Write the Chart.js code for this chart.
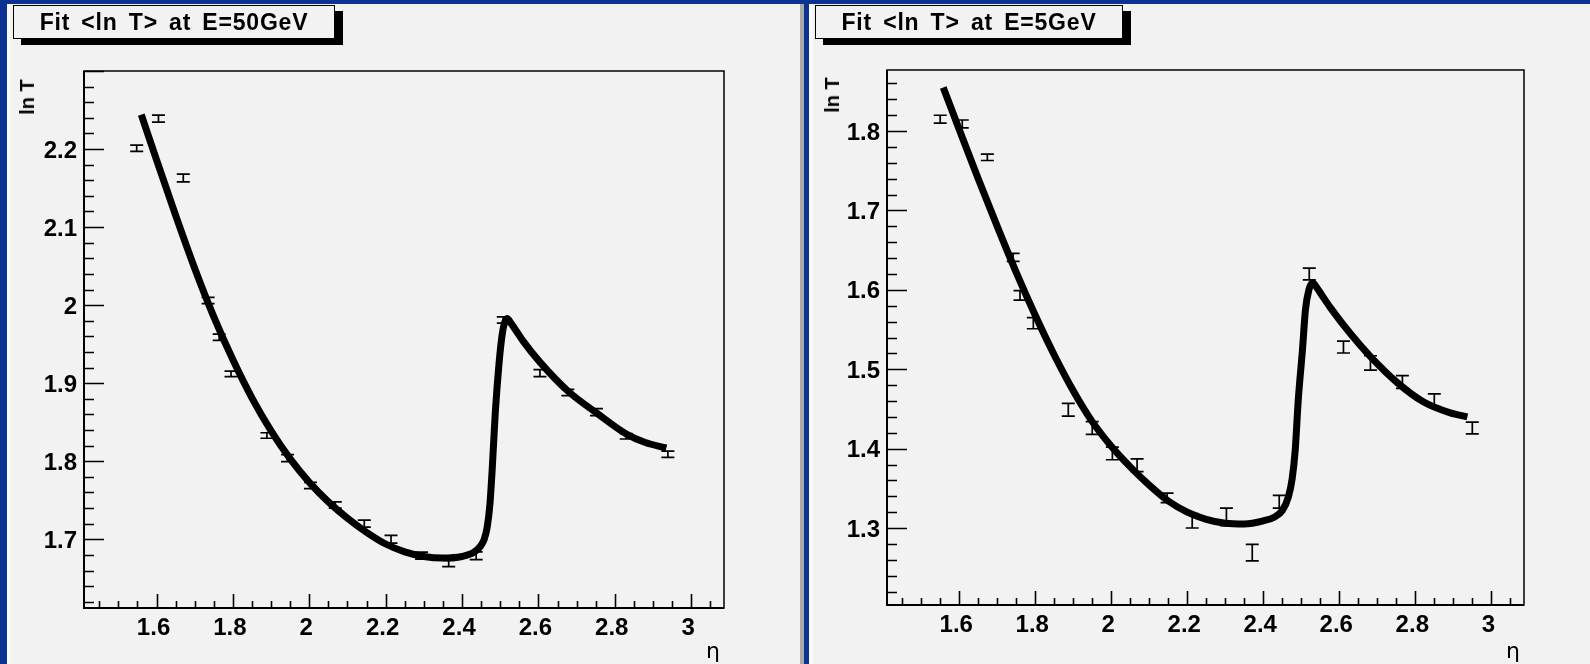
<!DOCTYPE html>
<html>
<head>
<meta charset="utf-8">
<script src="https://cdn.jsdelivr.net/npm/chart.js@4.4.1/dist/chart.umd.min.js"></script>
<style>
  body { margin: 0; width: 1590px; height: 664px; overflow: hidden; background: #0b3191; position: relative; font-family: "Liberation Sans", Arial, sans-serif; }
  .pad { position: absolute; top: 4px; height: 660px; background: #f2f2f2; box-sizing: border-box; }
  #pad1 { left: 7px; width: 797px; border-left: 3px solid #fafafa; border-right: 4px solid #a9a9a9; }
  #pad2 { left: 809px; width: 781px; border-left: 4px solid #fafafa; }
  .pad canvas { position: absolute; left: 0; top: 0; }
  .title { position: absolute; top: 5px; height: 34px; box-sizing: border-box; border: 1px solid #000; background: #f2f2f2; box-shadow: 8px 6px 0 #000; font-weight: bold; font-size: 23px; line-height: 32px; text-align: center; letter-spacing: 0.8px; word-spacing: 4px; white-space: nowrap; }
  .ytitle { position: absolute; font-weight: bold; font-size: 20px; line-height: 1; white-space: nowrap; transform: translate(-50%, -50%) rotate(-90deg); }
  .xtitle { position: absolute; font-family: "DejaVu Sans", sans-serif; font-size: 22px; line-height: 1; transform: translate(-50%, -50%); }
</style>
</head>
<body>
<div class="pad" id="pad1"><canvas id="fit50" width="790" height="660" style="width:790px;height:660px"></canvas></div>
<div class="pad" id="pad2"><canvas id="fit5" width="777" height="660" style="width:777px;height:660px"></canvas></div>

<div class="title" style="left:13px;width:322px">Fit &lt;ln T&gt; at E=50GeV</div>
<div class="title" style="left:815px;width:308px">Fit &lt;ln T&gt; at E=5GeV</div>
<div class="ytitle" style="left:27px;top:97px">ln T</div>
<div class="ytitle" style="left:832px;top:95px">ln T</div>
<div class="xtitle" style="left:713px;top:651px">η</div>
<div class="xtitle" style="left:1513px;top:651px">η</div>

<script>
// E = 50 GeV : measured points
const eta50 = [1.548, 1.605, 1.670, 1.735, 1.764, 1.795, 1.889, 1.943, 2.003, 2.068, 2.144, 2.214, 2.294, 2.365, 2.437, 2.508, 2.604, 2.677, 2.752, 2.830, 2.939];
const lnT50 = [2.201, 2.239, 2.163, 2.006, 1.959, 1.912, 1.833, 1.804, 1.769, 1.744, 1.720, 1.700, 1.679, 1.669, 1.679, 1.981, 1.913, 1.888, 1.863, 1.832, 1.809];
const err50 = [0.004, 0.0045, 0.005, 0.004, 0.004, 0.0035, 0.0035, 0.0045, 0.004, 0.004, 0.0045, 0.005, 0.0045, 0.004, 0.005, 0.004, 0.0045, 0.004, 0.0045, 0.0035, 0.004];
// E = 50 GeV : fit curve
const fitEta50 = [1.560, 1.600, 1.650, 1.700, 1.750, 1.800, 1.850, 1.900, 1.950, 2.000, 2.050, 2.100, 2.150, 2.200, 2.250, 2.300, 2.350, 2.400, 2.430, 2.448, 2.458, 2.466, 2.473, 2.479, 2.487, 2.497, 2.505, 2.511, 2.518, 2.528, 2.542, 2.560, 2.604, 2.677, 2.752, 2.830, 2.880, 2.935];
const fitLnT50 = [2.244, 2.186, 2.115, 2.047, 1.985, 1.930, 1.881, 1.839, 1.803, 1.773, 1.748, 1.727, 1.709, 1.694, 1.684, 1.678, 1.676, 1.678, 1.683, 1.691, 1.700, 1.716, 1.745, 1.790, 1.862, 1.926, 1.962, 1.977, 1.983, 1.977, 1.967, 1.954, 1.927, 1.890, 1.862, 1.835, 1.824, 1.817];

// E = 5 GeV : measured points
const eta5 = [1.550, 1.608, 1.674, 1.742, 1.760, 1.795, 1.887, 1.950, 2.003, 2.068, 2.147, 2.213, 2.303, 2.371, 2.442, 2.521, 2.611, 2.682, 2.766, 2.850, 2.950];
const lnT5 = [1.815, 1.809, 1.767, 1.641, 1.593, 1.558, 1.449, 1.426, 1.394, 1.379, 1.338, 1.309, 1.314, 1.269, 1.333, 1.620, 1.528, 1.508, 1.484, 1.461, 1.426];
const err5 = [0.005, 0.005, 0.004, 0.005, 0.006, 0.007, 0.008, 0.008, 0.008, 0.008, 0.006, 0.009, 0.011, 0.0105, 0.008, 0.0075, 0.0075, 0.009, 0.008, 0.008, 0.0075];
// E = 5 GeV : fit curve
const fitEta5 = [1.558, 1.600, 1.650, 1.700, 1.750, 1.800, 1.850, 1.900, 1.950, 2.000, 2.050, 2.100, 2.150, 2.200, 2.250, 2.300, 2.350, 2.400, 2.430, 2.450, 2.466, 2.476, 2.484, 2.492, 2.503, 2.511, 2.520, 2.530, 2.542, 2.556, 2.576, 2.629, 2.682, 2.753, 2.821, 2.892, 2.937];
const fitLnT5 = [1.855, 1.802, 1.740, 1.680, 1.622, 1.568, 1.518, 1.473, 1.434, 1.403, 1.377, 1.354, 1.334, 1.320, 1.311, 1.306, 1.305, 1.309, 1.314, 1.322, 1.339, 1.362, 1.398, 1.461, 1.524, 1.575, 1.600, 1.609, 1.602, 1.592, 1.578, 1.545, 1.516, 1.483, 1.459, 1.445, 1.440];

// axis ticks
const xTicks = [1.6, 1.8, 2, 2.2, 2.4, 2.6, 2.8, 3];
const yTicks50 = [1.7, 1.8, 1.9, 2, 2.1, 2.2];
const yTicks5 = [1.3, 1.4, 1.5, 1.6, 1.7, 1.8];

const tickFont = { family: "Liberation Sans", size: 24, weight: "bold" };

// I-shaped error bars under the fit line
const errorBars = {
  id: "errorBars",
  beforeDatasetsDraw(chart) {
    const { ctx, scales: { x, y } } = chart;
    const ds = chart.data.datasets[1];
    ctx.save();
    ctx.strokeStyle = "#000";
    ctx.lineWidth = 1.7;
    ds.data.forEach((p, i) => {
      const px = x.getPixelForValue(p.x);
      const top = y.getPixelForValue(p.y + ds.errors[i]);
      const bot = y.getPixelForValue(p.y - ds.errors[i]);
      ctx.beginPath();
      ctx.moveTo(px, top); ctx.lineTo(px, bot);
      ctx.moveTo(px - 6.5, top); ctx.lineTo(px + 6.5, top);
      ctx.moveTo(px - 6.5, bot); ctx.lineTo(px + 6.5, bot);
      ctx.stroke();
    });
    ctx.restore();
  }
};

// ROOT style frame with ticks pointing inwards
const rootFrame = {
  id: "rootFrame",
  afterDraw(chart) {
    const { ctx, chartArea: a, scales: { x, y } } = chart;
    ctx.save();
    ctx.strokeStyle = "#000";
    ctx.lineWidth = 1.5;
    ctx.strokeRect(a.left, a.top, a.right - a.left, a.bottom - a.top);
    ctx.lineWidth = 2;
    ctx.beginPath();
    ctx.moveTo(a.left, a.top); ctx.lineTo(a.left, a.bottom); ctx.lineTo(a.right, a.bottom);
    ctx.stroke();

    ctx.lineWidth = 1.6;
    ctx.beginPath();
    for (let k = Math.ceil(y.min / 0.02 - 1e-6); k * 0.02 <= y.max + 1e-9; k++) {
      const py = Math.round(y.getPixelForValue(k * 0.02)) + 0.5;
      const len = k % 5 === 0 ? 20 : 10;
      ctx.moveTo(a.left, py); ctx.lineTo(a.left + len, py);
    }
    for (let k = Math.ceil(x.min / 0.05 - 1e-6); k * 0.05 <= x.max + 1e-9; k++) {
      const px = Math.round(x.getPixelForValue(k * 0.05)) + 0.5;
      const len = k % 4 === 0 ? 14 : 7;
      ctx.moveTo(px, a.bottom); ctx.lineTo(px, a.bottom - len);
    }
    ctx.stroke();
    ctx.restore();
  }
};

function createFitChart({ canvas_id, eta, lnT, errors, fitEta, fitLnT, yTicks, yMin, yMax, area }) {
  const canvas = document.getElementById(canvas_id);

  const chart_datasets = [
    {
      label: "fit",
      data: fitEta.map((x, i) => ({ x: x, y: fitLnT[i] })),
      showLine: true,
      borderColor: "#000",
      borderWidth: 7,
      pointRadius: 0,
      cubicInterpolationMode: "monotone",
      fill: false
    },
    {
      label: "data",
      data: eta.map((x, i) => ({ x: x, y: lnT[i] })),
      errors: errors,
      pointRadius: 0,
      showLine: false
    }
  ];

  const baseOptions = {
    responsive: false,
    animation: false,
    events: [],
    layout: { padding: { top: area.top, right: canvas.width - area.right, left: 0, bottom: 0 } },
    plugins: {
      legend: { display: false },
      tooltip: { enabled: false }
    },
    scales: {
      x: {
        type: "linear",
        min: 1.41,
        max: 3.086,
        afterBuildTicks: scale => { scale.ticks = xTicks.map(v => ({ value: v })); },
        afterFit: scale => { scale.height = canvas.height - area.bottom; },
        grid: { display: false, drawTicks: false },
        border: { display: false },
        ticks: {
          autoSkip: false,
          maxRotation: 0,
          minRotation: 0,
          padding: 6,
          labelOffset: -3,
          color: "#000",
          font: tickFont,
          callback: value => String(+value.toFixed(1))
        }
      },
      y: {
        type: "linear",
        min: yMin,
        max: yMax,
        afterBuildTicks: scale => { scale.ticks = yTicks.map(v => ({ value: v })); },
        afterFit: scale => { scale.width = area.left; },
        grid: { display: false, drawTicks: false },
        border: { display: false },
        ticks: {
          autoSkip: false,
          padding: 7,
          labelOffset: 2,
          color: "#000",
          font: tickFont,
          callback: value => String(+value.toFixed(1))
        }
      }
    }
  };

  return new Chart(canvas.getContext("2d"), {
    type: "scatter",
    data: { datasets: chart_datasets },
    options: baseOptions,
    plugins: [errorBars, rootFrame]
  });
}

createFitChart({
  canvas_id: "fit50",
  eta: eta50, lnT: lnT50, errors: err50,
  fitEta: fitEta50, fitLnT: fitLnT50,
  yTicks: yTicks50, yMin: 1.612, yMax: 2.3,
  area: { left: 74, top: 67, right: 714, bottom: 604 }
});

createFitChart({
  canvas_id: "fit5",
  eta: eta5, lnT: lnT5, errors: err5,
  fitEta: fitEta5, fitLnT: fitLnT5,
  yTicks: yTicks5, yMin: 1.203, yMax: 1.877,
  area: { left: 74, top: 66, right: 711, bottom: 601 }
});
</script>
</body>
</html>
